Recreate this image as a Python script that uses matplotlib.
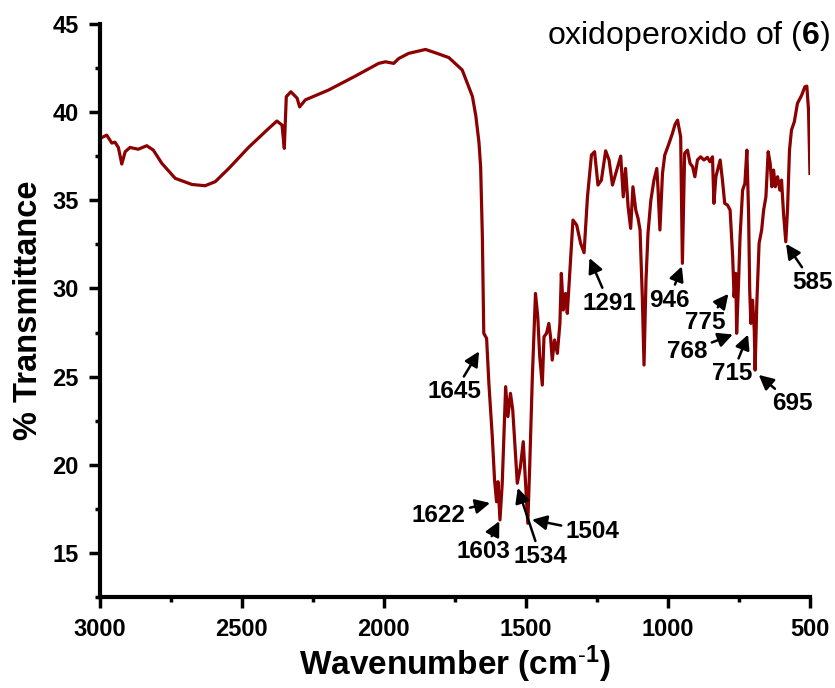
#!/usr/bin/env python3
"""IR spectrum of the oxidoperoxido complex (6) with labelled bands."""

import matplotlib

matplotlib.use("Agg")
import matplotlib.pyplot as plt
from matplotlib.ticker import MultipleLocator

plt.rcParams["font.family"] = ["Liberation Sans", "DejaVu Sans"]
plt.rcParams["mathtext.fontset"] = "custom"
plt.rcParams["mathtext.rm"] = "Liberation Sans"
plt.rcParams["mathtext.bf"] = "Liberation Sans:bold"
plt.rcParams["mathtext.default"] = "regular"

# spectrum (cm-1, % transmittance)
wavenumber = [
    3000, 2975, 2957, 2946, 2934, 2922, 2910, 2893, 2864, 2834, 2811, 2781,
    2734, 2675, 2629, 2593, 2546, 2476, 2405, 2376, 2358, 2350, 2343, 2327,
    2305, 2296, 2276, 2194, 2100, 2018, 1994, 1965, 1947, 1912, 1853, 1818,
    1771, 1724, 1701, 1688, 1676, 1665, 1659, 1653, 1648, 1638, 1630, 1618,
    1610, 1603, 1598, 1591, 1583, 1571, 1563, 1554, 1546, 1530, 1519, 1509,
    1501, 1493, 1486, 1477, 1466, 1458, 1451, 1442, 1436, 1427, 1419, 1413,
    1407, 1399, 1389, 1380, 1375, 1368, 1360, 1354, 1342, 1334, 1321, 1307,
    1295, 1283, 1269, 1258, 1246, 1234, 1219, 1207, 1195, 1180, 1166, 1157,
    1149, 1140, 1131, 1123, 1113, 1105, 1098, 1090, 1084, 1077, 1070, 1060,
    1049, 1039, 1035, 1028, 1019, 1011, 996, 984, 975, 966, 955, 949,
    941, 931, 922, 913, 905, 896, 885, 873, 861, 852, 843, 838,
    831, 825, 816, 808, 800, 790, 781, 772, 767, 761, 758, 751,
    746, 737, 729, 722, 716, 712, 708, 702, 696, 693, 687, 679,
    670, 663, 655, 647, 640, 634, 628, 622, 614, 606, 600, 593,
    585, 579, 572, 565, 555, 544, 529, 518, 511, 505, 500,
]
transmittance = [
    38.5, 38.7, 38.25, 38.3, 38.0, 37.06, 37.76, 38.0, 37.9, 38.1, 37.85, 37.1,
    36.25, 35.9, 35.83, 36.06, 36.8, 38.0, 39.08, 39.5, 39.27, 37.95, 40.88, 41.16,
    40.8, 40.3, 40.7, 41.26, 42.05, 42.77, 42.86, 42.77, 43.05, 43.34, 43.56, 43.37,
    43.1, 42.4, 41.45, 40.9, 39.8, 38.3, 36.9, 33.0, 27.46, 27.17, 24.62, 21.59,
    19.13, 17.9, 19.04, 16.87, 18.95, 24.43, 22.73, 24.05, 23.1, 18.95, 19.89, 21.31,
    18.95, 16.68, 20.08, 25.0, 29.72, 28.4, 26.13, 24.52, 27.26, 27.46, 28.02, 27.26,
    25.94, 27.08, 26.32, 28.02, 30.86, 28.78, 29.72, 28.59, 31.8, 33.88, 33.6, 32.56,
    32.03, 35.2, 37.57, 37.76, 35.87, 36.15, 37.81, 37.29, 35.87, 36.72, 37.51, 35.2,
    36.81, 34.64, 33.41, 35.77, 34.45, 33.98, 33.32, 29.53, 25.66, 30.48, 33.13, 35.0,
    36.15, 36.81, 35.77, 33.32, 36.53, 37.57, 38.23, 38.8, 39.3, 39.55, 38.6, 31.43,
    37.67, 37.85, 37.1, 36.91, 36.34, 37.29, 37.47, 37.29, 37.44, 37.19, 37.47, 34.83,
    36.34, 36.72, 37.29, 36.15, 34.83, 34.73, 34.45, 31.8, 29.53, 30.86, 27.46, 30.48,
    32.94, 35.58, 35.96, 37.85, 34.26, 29.91, 28.02, 29.34, 27.64, 25.37, 29.15, 32.56,
    33.32, 34.45, 35.2, 37.76, 37.1, 35.77, 36.72, 35.77, 36.34, 35.58, 36.15, 34.26,
    32.65, 34.45, 37.85, 38.99, 39.46, 40.5, 40.97, 41.44, 41.48, 40.12, 36.53,
]

# band labels: arrow tip and label centre
peak_labels = ["1645", "1622", "1603", "1534", "1504", "1291",
               "946", "775", "768", "715", "695", "585"]
tip_wn = [1662, 1621, 1591, 1530, 1483, 1278, 949, 784, 767, 716, 684, 587]
tip_t = [26.5, 17.85, 16.87, 18.76, 16.9, 31.8, 31.33, 29.76, 27.42, 27.46, 25.15, 32.6]
label_wn = [1751, 1806, 1648, 1448, 1266, 1207, 996, 867, 931, 773, 561, 491]
label_t = [24.13, 17.15, 15.07, 14.79, 16.2, 29.16, 29.34, 28.06, 26.41, 25.15, 23.45, 30.33]

LINE_COLOR = "#8b0000"

fig = plt.figure(figsize=(8.35, 6.88), dpi=100)
ax = fig.add_axes([0.1193, 0.1323, 0.8507, 0.8327])

ax.plot(wavenumber, transmittance, color=LINE_COLOR, lw=2.3)

for text, xw, yt, lx, ly in zip(peak_labels, tip_wn, tip_t, label_wn, label_t):
    ax.annotate(
        text,
        xy=(xw, yt),
        xytext=(lx, ly),
        ha="center",
        va="center",
        fontsize=17.5,
        fontweight="bold",
        annotation_clip=False,
        arrowprops=dict(arrowstyle="-|>", color="black", lw=1.8,
                        mutation_scale=22, shrinkA=1, shrinkB=1),
    )

fig.text(0.994, 0.972, r"oxidoperoxido of ($\mathbf{6}$)",
         ha="right", va="top", fontsize=23)

ax.set_xlim(3000, 500)
ax.set_ylim(12.5, 45)
ax.xaxis.set_major_locator(MultipleLocator(500))
ax.xaxis.set_minor_locator(MultipleLocator(250))
ax.yaxis.set_major_locator(MultipleLocator(5))
ax.yaxis.set_minor_locator(MultipleLocator(2.5))

for side in ("top", "right"):
    ax.spines[side].set_visible(False)
for side in ("left", "bottom"):
    ax.spines[side].set_linewidth(3)

ax.tick_params(which="major", direction="out", length=8, width=2.5, pad=7)
ax.tick_params(which="minor", direction="out", length=3.5, width=2.5)
for lbl in ax.get_xticklabels() + ax.get_yticklabels():
    lbl.set_fontsize(17)
    lbl.set_fontweight("bold")

ax.set_xlabel(r"Wavenumber (cm$^{\text{-}1}$)", fontsize=24, fontweight="bold", labelpad=2)
ax.set_ylabel("% Transmittance", fontsize=23.5, fontweight="bold", labelpad=6)

fig.savefig("out.png", dpi=100)
